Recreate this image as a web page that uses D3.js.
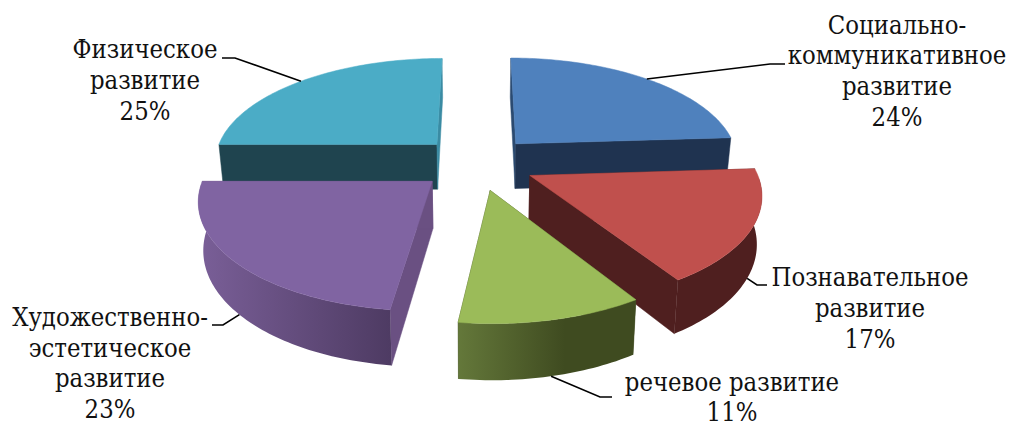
<!DOCTYPE html>
<html lang="ru">
<head>
<meta charset="utf-8">
<title>Диаграмма</title>
<script src="https://cdn.jsdelivr.net/npm/d3@7"></script>
<style>
  html, body { margin: 0; padding: 0; background: #fff; }
  svg { display: block; }
  .label { font-family: "DejaVu Serif Condensed", "DejaVu Serif", serif; font-size: 25.4px; fill: #111; text-anchor: middle; }
  .leader { fill: none; stroke: #000; stroke-width: 1.6; }
</style>
</head>
<body>
<svg id="chart" width="1009" height="427"></svg>
<script>
const categories = [
  'Социально-коммуникативное развитие',
  'Познавательное развитие',
  'речевое развитие',
  'Художественно-эстетическое развитие',
  'Физическое развитие',
];
const values = [24, 17, 11, 23, 25];
const labelLines = [
  ['Социально-', 'коммуникативное', 'развитие'],
  ['Познавательное', 'развитие'],
  ['речевое развитие'],
  ['Художественно-', 'эстетическое', 'развитие'],
  ['Физическое', 'развитие'],
];
const topColors = ['#4f81bd', '#c0504d', '#9bbb59', '#8064a2', '#4bacc6'];
const endWallColors = ['#1f3350', '#4f1f1f', '#3f4b22', '#6a5082', '#3a8ba3'];
const startWallColors = ['#2b4a70', '#4f1f1f', '#3f4b22', '#6a5082', '#1f444f'];
const rimColors = [
  ['#1f3350', '#1f3350'],
  ['#4f1f1f', '#4f1f1f'],
  ['#64783a', '#3f4b20'],
  ['#7a5f98', '#4e3b63'],
  ['#1f444f', '#1f444f'],
];

const explode = 0.26;    // slice offset, in radii
const persp = 0.15;      // how much the far side shrinks
const thickness = 46;
const bottomShrink = 0.018;

// leader elbows and label anchors, per slice
const layout = [
  { elbow: [770, 64], end: [785, 64], onTop: true,  tx: 897, ty: 33.5, lh: 30.8 },
  { elbow: [757, 285], end: [767, 285], onTop: false, tx: 870, ty: 286, lh: 31 },
  { elbow: [600, 397], end: [612, 397], onTop: false, tx: 732, ty: 391.4, lh: 29.7 },
  { elbow: [223, 325], end: [212, 325], onTop: false, tx: 110, ty: 326, lh: 30.7 },
  { elbow: [235, 58], end: [222, 58], onTop: true,  tx: 145, ty: 58, lh: 31 },
];

const svg = d3.select('#chart');
const defs = svg.append('defs');

const xScale = d3.scaleLinear().domain([-1, 1]).range([477 - 224, 477 + 224]);
const yScale = d3.scaleLinear().domain([-1, 1]).range([163 + 104, 163 - 104]);

const arcs = d3.pie().sort(null).startAngle(0).endAngle(2 * Math.PI)(values);

// disk coordinates -> screen, z = 0 top face, z = 1 bottom face
function project(u, v, z) {
  const w = 1 + persp * v;
  const s = 1 - bottomShrink * z;
  return [
    xScale(u / w * s),
    yScale(v / w) + z * thickness / w,
  ];
}

function sliceGeom(d) {
  const mid = (d.startAngle + d.endAngle) / 2;
  const ou = explode * Math.sin(mid);
  const ov = explode * Math.cos(mid);
  const rim = (a, r = 1) => [ou + r * Math.sin(a), ov + r * Math.cos(a)];
  return { mid, ou, ov, rim };
}

function rimAngles(d) {
  const n = Math.ceil((d.endAngle - d.startAngle) / 0.02);
  return d3.range(n + 1).map(i => d.startAngle + (d.endAngle - d.startAngle) * i / n);
}

function polyPath(pts) {
  const p = d3.path();
  pts.forEach((pt, i) => i ? p.lineTo(pt[0], pt[1]) : p.moveTo(pt[0], pt[1]));
  p.closePath();
  return p.toString();
}

// back slices first, so the front ones cover them
const drawOrder = [4, 0, 3, 1, 2];

const slices = svg.append('g').attr('class', 'slices');

drawOrder.forEach(i => {
  const d = arcs[i];
  const g = sliceGeom(d);
  const group = slices.append('g').attr('class', 'slice');
  const angles = rimAngles(d);

  const apexTop = project(g.ou, g.ov, 0);
  const apexBot = project(g.ou, g.ov, 1);
  const wall = a => {
    const [u, v] = g.rim(a);
    return [apexTop, project(u, v, 0), project(u, v, 1), apexBot];
  };

  group.append('path').attr('d', polyPath(wall(d.startAngle)))
    .attr('fill', startWallColors[i]).attr('stroke', startWallColors[i]).attr('stroke-width', 0.5);
  group.append('path').attr('d', polyPath(wall(d.endAngle)))
    .attr('fill', endWallColors[i]).attr('stroke', endWallColors[i]).attr('stroke-width', 0.5);

  // outer wall, shaded left to right; only the near half can be seen
  const topRim = angles.map(a => project(...g.rim(a), 0));
  const near = angles.filter(a => a > Math.PI / 2 && a < 3 * Math.PI / 2);
  if (near.length) {
    const nearTop = near.map(a => project(...g.rim(a), 0));
    const nearBot = near.map(a => project(...g.rim(a), 1));
    const xs = d3.extent(topRim, p => p[0]);
    const grad = defs.append('linearGradient')
      .attr('id', `rim-${i}`)
      .attr('gradientUnits', 'userSpaceOnUse')
      .attr('x1', xs[0]).attr('x2', xs[1]).attr('y1', 0).attr('y2', 0);
    grad.append('stop').attr('offset', 0).attr('stop-color', rimColors[i][0]);
    grad.append('stop').attr('offset', i === 2 ? 0.6 : 1).attr('stop-color', rimColors[i][1]);

    group.append('path').attr('d', polyPath(nearTop.concat(nearBot.reverse())))
      .attr('fill', `url(#rim-${i})`);
  }

  group.append('path').attr('d', polyPath([apexTop].concat(topRim)))
    .attr('fill', topColors[i]).attr('stroke', topColors[i]).attr('stroke-width', 0.5);
});

// leaders start on the rim at the middle of each slice
const leaders = svg.append('g');
arcs.forEach((d, i) => {
  const g = sliceGeom(d);
  const [u, v] = g.rim(g.mid);
  const start = project(u, v, layout[i].onTop ? 0 : 1);
  leaders.append('path').attr('class', 'leader')
    .attr('d', d3.line()([start, layout[i].elbow, layout[i].end]));
});

// labels, the percentage is the last line
const labels = svg.append('g');
values.forEach((val, i) => {
  const lines = labelLines[i].concat(`${val}%`);
  const text = labels.append('text').attr('class', 'label');
  lines.forEach((ln, j) => {
    text.append('tspan')
      .attr('x', layout[i].tx)
      .attr('y', layout[i].ty + j * layout[i].lh)
      .text(ln);
  });
});
</script>
</body>
</html>
